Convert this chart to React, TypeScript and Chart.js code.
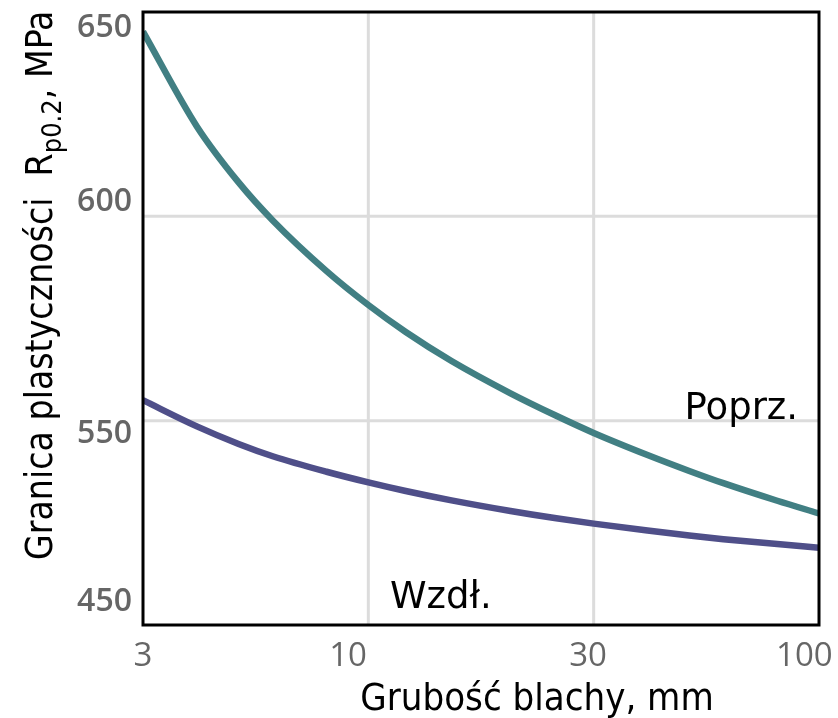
import React, { useEffect, useRef } from 'react';
import { Chart, registerables } from 'chart.js';

Chart.register(...registerables);

// ---- Data ----
const THICKNESS_MM = [3, 4, 5, 6, 8, 10, 12, 15, 20, 25, 30, 40, 50, 60, 80, 100];
const POPRZ_MPA = [645.2, 622.0, 608.3, 599.0, 586.6, 578.3, 571.7, 564.6, 556.7, 551.2, 547.0, 541.6, 537.7, 534.7, 530.4, 527.3];
const WZDL_MPA = [555.0, 548.6, 544.3, 541.3, 537.5, 534.9, 532.8, 530.5, 527.9, 526.1, 524.8, 523.1, 521.9, 521.0, 519.8, 518.9];

const X_TICK_MM = [3, 10, 30, 100];
const X_TICK_LABELS = ['3', '10', '30', '100'];
const Y_TICK_LABELS = ['450', '550', '600', '650'];
const X_GRID_MM = [10, 30];
const Y_GRID_MPA = [550, 600];
const Y_MIN = 500;
const Y_MAX = 650;

// ---- Label placement (axis units) ----
const X_LABEL_AT = [0.0, 0.91, 1.975, 2.935];
const Y_LABEL_AT = [505.6, 546.7, 603.5, 646.0];

// equal spacing between the thickness ticks, logarithmic within each interval
function mmToPos(t: number): number {
  const n = X_TICK_MM.length;
  for (let i = 0; i < n - 1; i++) {
    const a = X_TICK_MM[i];
    const b = X_TICK_MM[i + 1];
    if (t <= b || i === n - 2) return i + Math.log(t / a) / Math.log(b / a);
  }
  return 0;
}

const TEAL = '#417f83';
const PURPLE = '#4f4f89';
const COND = '"DejaVu Sans Condensed", "DejaVu Sans", sans-serif';
const SANS = '"DejaVu Sans", sans-serif';

const decor = {
  id: 'decor',
  beforeDatasetsDraw(chart: any) {
    const { ctx, chartArea: a, scales } = chart;
    const x = scales.x;
    const y = scales.y;
    ctx.save();
    ctx.strokeStyle = '#dcdcdc';
    ctx.lineWidth = 3;
    X_GRID_MM.forEach((t) => {
      const px = x.getPixelForValue(mmToPos(t));
      ctx.beginPath();
      ctx.moveTo(px, a.top);
      ctx.lineTo(px, a.bottom);
      ctx.stroke();
    });
    Y_GRID_MPA.forEach((v) => {
      const py = y.getPixelForValue(v);
      ctx.beginPath();
      ctx.moveTo(a.left, py);
      ctx.lineTo(a.right, py);
      ctx.stroke();
    });
    ctx.restore();
  },
  afterDatasetsDraw(chart: any) {
    const { ctx, chartArea: a } = chart;
    ctx.save();
    ctx.strokeStyle = '#000';
    ctx.lineWidth = 3;
    ctx.strokeRect(a.left, a.top, a.right - a.left, a.bottom - a.top);
    ctx.restore();
  },
  afterDraw(chart: any) {
    const { ctx, scales } = chart;
    const x = scales.x;
    const y = scales.y;
    ctx.save();
    ctx.fillStyle = '#000';
    ctx.textBaseline = 'alphabetic';

    // series labels
    ctx.font = `37px ${SANS}`;
    ctx.textAlign = 'right';
    ctx.fillText('Poprz.', x.getPixelForValue(2.907), y.getPixelForValue(550.4));
    ctx.textAlign = 'left';
    ctx.fillText('Wzdł.', x.getPixelForValue(1.096), y.getPixelForValue(504.2));

    // x title
    ctx.font = `38px ${COND}`;
    ctx.textAlign = 'center';
    ctx.fillText('Grubość blachy, mm', 537, 710);

    // y title with subscript
    ctx.translate(52, 560);
    ctx.rotate(-Math.PI / 2);
    ctx.textAlign = 'left';
    ctx.font = `37px ${COND}`;
    const p1 = 'Granica plastyczności  R';
    ctx.fillText(p1, 0, 0);
    const w1 = ctx.measureText(p1).width;
    ctx.font = `27px ${COND}`;
    const p2 = 'p0.2';
    ctx.fillText(p2, w1, 9);
    const w2 = ctx.measureText(p2).width;
    ctx.font = `37px ${COND}`;
    ctx.fillText(', MPa', w1 + w2, 0);
    ctx.restore();
  },
};

export default function App() {
  const ref = useRef<HTMLCanvasElement | null>(null);

  useEffect(() => {
    document.body.style.margin = '0';
    const canvas = ref.current;
    if (!canvas) return;
    const mk = (vals: number[]) => THICKNESS_MM.map((t, i) => ({ x: mmToPos(t), y: vals[i] }));
    const chart = new Chart(canvas, {
      type: 'line',
      data: {
        datasets: [
          {
            label: 'Poprz.',
            data: mk(POPRZ_MPA),
            borderColor: TEAL,
            borderWidth: 6.5,
            pointRadius: 0,
            cubicInterpolationMode: 'monotone',
            fill: false,
          },
          {
            label: 'Wzdł.',
            data: mk(WZDL_MPA),
            borderColor: PURPLE,
            borderWidth: 6.5,
            pointRadius: 0,
            cubicInterpolationMode: 'monotone',
            fill: false,
          },
        ],
      },
      options: {
        animation: false,
        responsive: false,
        devicePixelRatio: 1,
        layout: { padding: { top: 12, right: 19, left: 0, bottom: 0 } },
        plugins: { legend: { display: false }, tooltip: { enabled: false } },
        scales: {
          x: {
            type: 'linear',
            min: 0,
            max: X_TICK_MM.length - 1,
            grid: { display: false, drawTicks: false },
            border: { display: false },
            afterBuildTicks: (s: any) => {
              s.ticks = X_LABEL_AT.map((v) => ({ value: v }));
            },
            afterFit: (s: any) => {
              s.height = 93;
              s.paddingLeft = 0;
              s.paddingRight = 0;
            },
            ticks: {
              autoSkip: false,
              maxRotation: 0,
              padding: 12,
              color: '#666',
              font: { family: '"Open Sans", sans-serif', size: 33 },
              callback: (_v: any, i: number) => X_TICK_LABELS[i],
            },
          },
          y: {
            type: 'linear',
            min: Y_MIN,
            max: Y_MAX,
            grid: { display: false, drawTicks: false },
            border: { display: false },
            afterBuildTicks: (s: any) => {
              s.ticks = Y_LABEL_AT.map((v) => ({ value: v }));
            },
            afterFit: (s: any) => {
              s.width = 143;
              s.paddingTop = 0;
              s.paddingBottom = 0;
            },
            ticks: {
              autoSkip: false,
              padding: 11,
              color: '#666',
              font: { family: '"Open Sans", sans-serif', size: 32, weight: '600' },
              callback: (_v: any, i: number) => Y_TICK_LABELS[i],
            },
          },
        },
      },
      plugins: [decor],
    } as any);
    return () => chart.destroy();
  }, []);

  return <canvas ref={ref} width={838} height={718} style={{ display: 'block' }} />;
}
